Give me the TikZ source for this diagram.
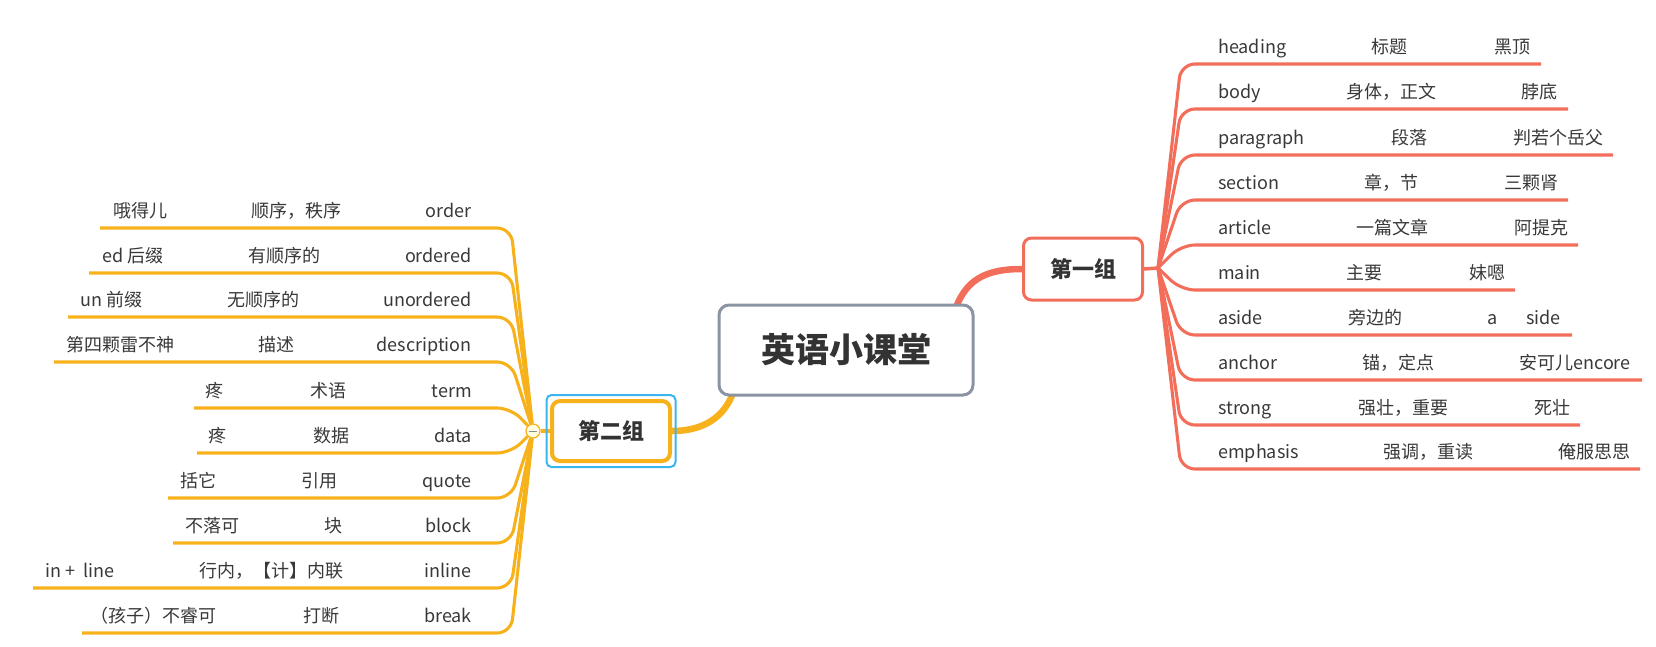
\documentclass[tikz,border=0pt]{standalone}
\usepackage{fontspec}
\setmainfont{Noto Sans CJK SC}
\usetikzlibrary{calc}
\definecolor{redline}{HTML}{F36D5B}
\definecolor{goldline}{HTML}{F7B11B}
\definecolor{selblue}{HTML}{3BB5EE}
\definecolor{rootgray}{HTML}{8A94A2}
\definecolor{inkgray}{HTML}{383838}
\pgfdeclarelayer{bg}
\pgfsetlayers{bg,main}

\begin{document}
\begin{tikzpicture}[x=1pt,y=-1pt,
  topic/.style={draw,rounded corners=8pt,fill=white,font=\fontsize{22}{26}\selectfont\bfseries,text=black!80},
  leaf/.style={inner sep=0pt,font=\fontsize{18}{20}\selectfont,text=inkgray},
  twig/.style={line width=3.1pt,rounded corners=14pt}]
\useasboundingbox (0,0) rectangle (1656,646);
\node[draw=rootgray,line width=3pt,rounded corners=10pt,fill=white,minimum width=254pt,minimum height=90pt,font=\fontsize{34}{40}\selectfont\bfseries,text=black!80] (root) at (846,350) {英语小课堂};
\node[topic,draw=redline,line width=3pt,minimum width=119pt,minimum height=62pt] (grp1) at (1083,269) {第一组};
\node[draw=selblue,line width=2pt,rounded corners=5pt,minimum width=129pt,minimum height=72pt] (sel2) at (611,431) {};
\node[topic,draw=goldline,line width=4pt,minimum width=118pt,minimum height=60pt] (grp2) at (611,431) {第二组};
\coordinate (jr) at (1158,268);
\node[circle,draw=goldline,fill=yellow!12,line width=1.2pt,inner sep=0pt,minimum size=14pt] (jl) at (533,431) {};
\draw[black!45,line width=1pt] ($(jl.west)+(3.5,0)$) -- ($(jl.east)+(-3.5,0)$);
\begin{pgfonlayer}{bg}
\draw[redline,line width=6.5pt] (grp1.west) .. controls (985,269) and (965,280) .. ($(root.north east)+(-20,8)$);
\draw[goldline,line width=6.5pt] (grp2.east) .. controls (700,431) and (725,420) .. ($(root.south west)+(17,-8)$);
\draw[redline,line width=3.5pt] (grp1.east) -- (jr);
\draw[goldline,line width=3.5pt] (grp2.west) -- (jl);
\end{pgfonlayer}
\foreach \y/\w/\m/\mx/\s/\sx/\e [count=\i] in {
  64/heading/标题/1389/黑顶/1512/1541,
  109/body/身体，正文/1391/脖底/1539/1568,
  155/paragraph/段落/1409/判若个岳父/1558/1613,
  200/section/章，节/1391/三颗肾/1531/1568,
  245/article/一篇文章/1392/阿提克/1541/1578,
  290/main/主要/1364/妹嗯/1487/1515,
  335/aside/旁边的/1375/{a\hspace{29pt}side}/1524/1572,
  380/anchor/锚，定点/1398/安可儿encore/1575/1642,
  425/strong/强壮，重要/1403/死壮/1552/1580,
  469/emphasis/强调，重读/1428/俺服思思/1594/1640}{
  \coordinate (rk\i) at (1181,\y);
  \begin{pgfonlayer}{bg}
  \draw[twig,redline] (jr) -- (rk\i) -- (\e,\y);
  \end{pgfonlayer}
  \node[leaf,anchor=base west] (rw\i) at (1218,\y-11) {\w};
  \node[leaf,anchor=base] (rm\i) at (\mx,\y-11) {\m};
  \node[leaf,anchor=base] (rs\i) at (\sx,\y-11) {\s};
}
\foreach \y/\s/\sx/\m/\mx/\w/\e [count=\i] in {
  228/哦得儿/113/顺序，秩序/296/order/100,
  273/ed 后缀/102/有顺序的/284/ordered/89,
  317/un 前缀/80/无顺序的/263/unordered/68,
  362/第四颗雷不神/66/描述/276/description/54,
  408/疼/205/术语/328/term/194,
  453/疼/208/数据/331/data/197,
  498/括它/180/引用/319/quote/168,
  543/不落可/185/块/333/block/173,
  588/{in +\ \ line}/45/行内，【计】内联/271/inline/33,
  633/（孩子）不睿可/90/打断/321/break/82}{
  \coordinate (lk\i) at (511,\y);
  \begin{pgfonlayer}{bg}
  \draw[twig,goldline] (jl) -- (lk\i) -- (\e,\y);
  \end{pgfonlayer}
  \node[leaf,anchor=base east] (lw\i) at (472,\y-11) {\w};
  \node[leaf,anchor=base] (lm\i) at (\mx,\y-11) {\m};
  \node[leaf,anchor=base west] (ls\i) at (\sx,\y-11) {\s};
}
\end{tikzpicture}
\end{document}
